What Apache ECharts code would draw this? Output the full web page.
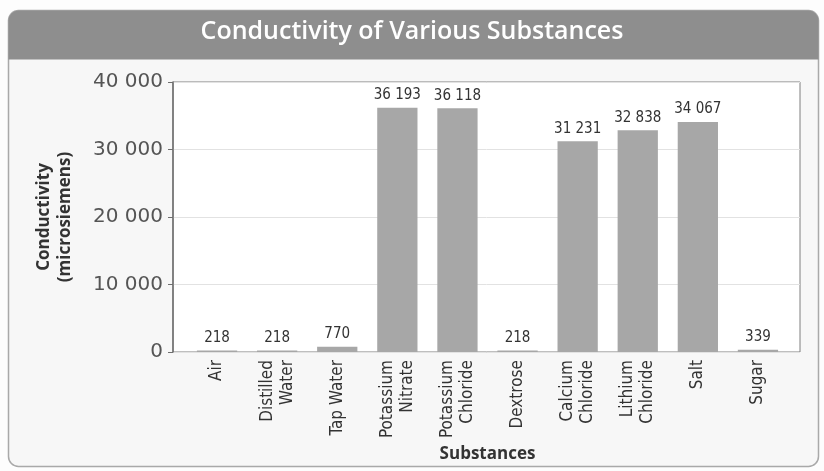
<!DOCTYPE html>
<html>
<head>
<meta charset="utf-8">
<script src="https://cdn.jsdelivr.net/npm/echarts@6/dist/echarts.min.js"></script>
<style>
  html, body { margin: 0; padding: 0; background: #fdfdfd; }
  #chart { width: 824px; height: 471px; }
</style>
</head>
<body>
<div id="chart"></div>
<script>
// Conductivity readings for each tested substance
const substances = ['Air', 'Distilled\nWater', 'Tap Water', 'Potassium\nNitrate', 'Potassium\nChloride',
  'Dextrose', 'Calcium\nChloride', 'Lithium\nChloride', 'Salt', 'Sugar'];
const conductivity = [218, 218, 770, 36193, 36118, 218, 31231, 32838, 34067, 339];
const yTicks = [0, 10000, 20000, 30000, 40000];

const titleText = 'Conductivity of Various Substances';
const yName = 'Conductivity\n(microsiemens)';
const xName = 'Substances';

// thousands separated by a space, e.g. 36 193
const fmt = v => String(v).replace(/\B(?=(\d{3})+(?!\d))/g, ' ');

const chart = echarts.init(document.getElementById('chart'), null, { renderer: 'canvas' });

const plotTop = 82, plotBottom = 119;
const yMin = yTicks[0], yMax = yTicks[yTicks.length - 1], yStep = yTicks[1] - yTicks[0];
const narrow = '"DejaVu Sans Condensed", "Liberation Sans Narrow", sans-serif';

chart.setOption({
  animation: false,
  backgroundColor: '#fdfdfd',
  graphic: [
    // outer panel
    { type: 'rect', z: -10, shape: { x: 8.5, y: 10.5, width: 810, height: 456, r: 10 },
      style: { fill: '#f7f7f7', stroke: '#a9a9a9', lineWidth: 1.5 } },
    // header band
    { type: 'rect', z: -9, shape: { x: 8.5, y: 10.5, width: 810, height: 49, r: [10, 10, 0, 0] },
      style: { fill: '#8e8e8e' } },
    { type: 'text', z: 5, left: 'center', top: 19,
      style: { text: titleText, fill: '#ffffff', font: '600 25px "Open Sans", sans-serif' } }
  ],
  grid: [
    // framed plot area carrying the value axis
    { left: 173, right: 24, top: plotTop, bottom: plotBottom, show: true,
      backgroundColor: '#ffffff', borderColor: '#7e7e7e', borderWidth: 1 },
    // bars sit inside with a little padding on both sides
    { left: 187, right: 36, top: plotTop, bottom: plotBottom }
  ],
  xAxis: [
    { gridIndex: 0, type: 'category', data: substances, show: false },
    { gridIndex: 1, type: 'category', data: substances,
      axisLine: { show: false },
      axisTick: { show: false },
      axisLabel: { interval: 0, rotate: 90, margin: 8, color: '#333',
        fontFamily: narrow, fontSize: 17, lineHeight: 20 },
      name: xName, nameLocation: 'middle', nameGap: 93,
      nameTextStyle: { color: '#333', fontWeight: 'bold', fontSize: 17, fontFamily: '"Open Sans", sans-serif' } }
  ],
  yAxis: [
    { gridIndex: 0, type: 'value', min: yMin, max: yMax, interval: yStep,
      axisLine: { show: true, lineStyle: { color: '#6e6e6e', width: 1.5 } },
      axisTick: { show: true, length: 5, lineStyle: { color: '#6e6e6e' } },
      splitLine: { show: true, lineStyle: { color: '#e2e2e2', width: 1 } },
      axisLabel: { margin: 10, color: '#555', fontSize: 20,
        fontFamily: '"DejaVu Sans", sans-serif', formatter: fmt },
      name: yName, nameLocation: 'middle', nameGap: 97,
      nameTextStyle: { color: '#333', fontWeight: 'bold', fontSize: 17, lineHeight: 21,
        fontFamily: '"Open Sans", sans-serif' } },
    { gridIndex: 1, type: 'value', min: yMin, max: yMax, interval: yStep, show: false }
  ],
  series: [{
    type: 'bar',
    xAxisIndex: 1, yAxisIndex: 1,
    data: conductivity,
    barCategoryGap: '33%',
    itemStyle: { color: '#a7a7a7' },
    label: { show: true, position: 'top', distance: 5, color: '#333',
      fontFamily: narrow, fontSize: 15,
      formatter: p => fmt(p.value) }
  }]
});
</script>
</body>
</html>
